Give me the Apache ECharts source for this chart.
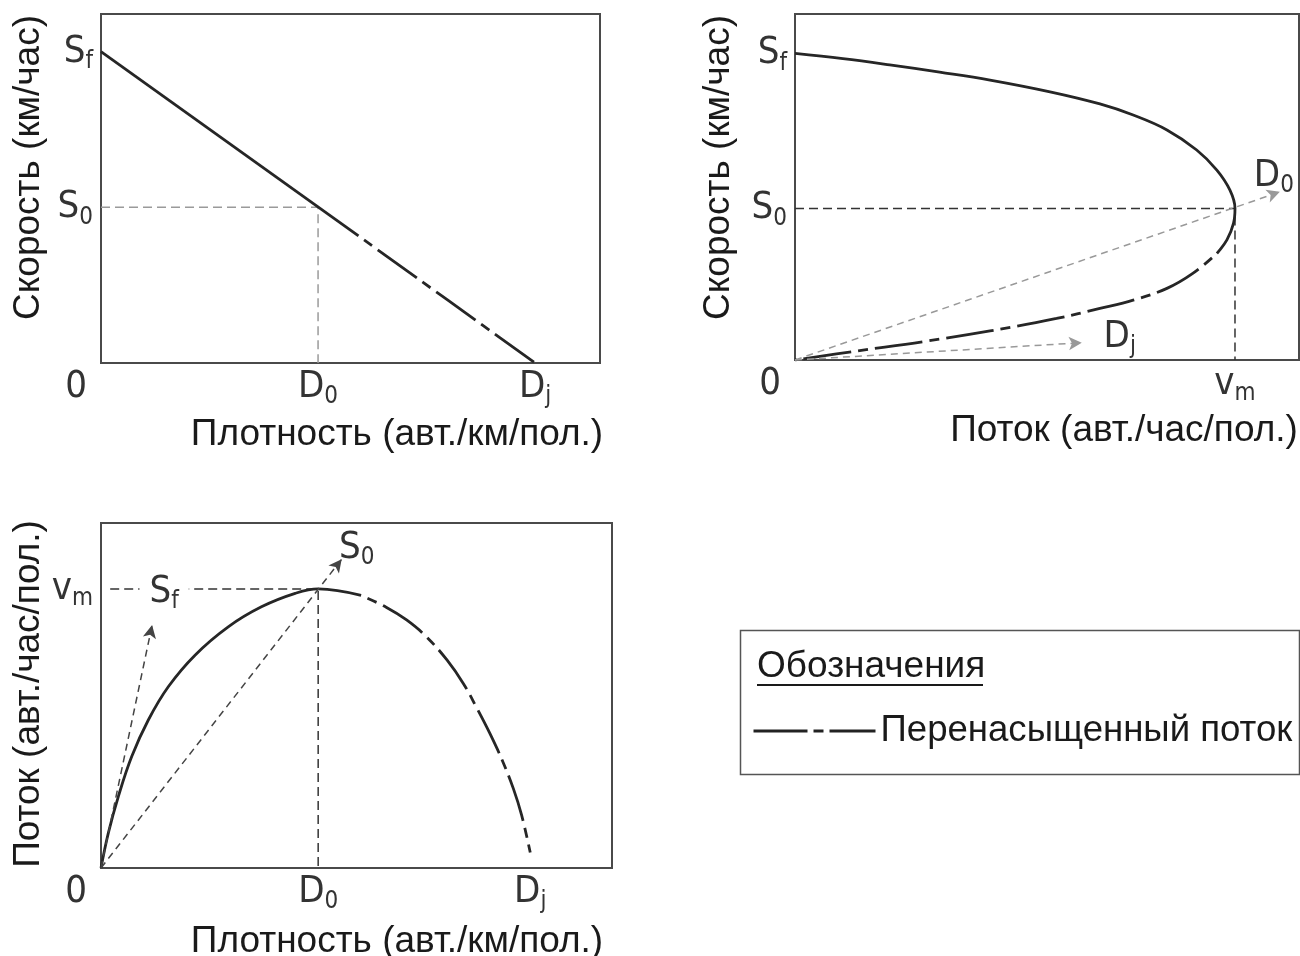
<!DOCTYPE html>
<html>
<head>
<meta charset="utf-8">
<script src="https://cdn.jsdelivr.net/npm/echarts@6/dist/echarts.min.js"></script>
<style>html,body{margin:0;padding:0;background:#fff}#c{width:1300px;height:956px}</style>
</head>
<body>
<div id="c"></div>
<script>
// ---------- Plot 1: speed vs density ----------
const kdFreeDensity = [0, 51.6];
const kdFreeSpeed   = [89.2, 36.4];
const kdCongDensity = [51.6, 87.0];
const kdCongSpeed   = [36.4, 0];
const kdRefDensity  = [0, 43.5, 43.5];
const kdRefSpeed    = [44.6, 44.6, 0];
const kdXTicks  = [0, 43.5, 87.0];
const kdXLabels = [['0', ''], ['D', '0'], ['D', 'j']];
const kdYTicks  = [89.2, 44.6];
const kdYLabels = [['S', 'f'], ['S', '0']];

// ---------- Plot 2: speed vs flow ----------
const sqFreeFlow  = [0, 9.5, 18.8, 28.7, 38.7, 50.6, 60.5, 67.1, 73.8, 79.7, 83.7, 86.3, 87.3, 87.0, 85.7, 83.7];
const sqFreeSpeed = [88.6, 87.1, 85.3, 83.2, 80.9, 77.5, 74.0, 70.8, 66.5, 60.7, 54.9, 49.1, 43.8, 39.5, 34.7, 30.8];
const sqCongFlow  = [83.7, 79.0, 73.8, 67.1, 60.5, 51.9, 38.7, 25.4, 12.2, 0];
const sqCongSpeed = [30.8, 25.1, 20.7, 17.3, 14.9, 12.0, 8.4, 5.3, 2.6, 0];
const sqRefFlow   = [0, 87.3, 87.3];
const sqRefSpeed  = [43.8, 43.8, 0];
const sqArrowEnds = [[96.2, 48.6], [56.9, 5.0]];
const sqArrowLabels = [['D', '0'], ['D', 'j']];
const sqXTicks  = [0, 87.3];
const sqXLabels = [['0', ''], ['v', 'm']];
const sqYTicks  = [88.6, 43.8];
const sqYLabels = [['S', 'f'], ['S', '0']];

// ---------- Plot 3: flow vs density ----------
const qkFreeDensity = [0, 1.43, 3.39, 6.01, 9.26, 13.2, 18.4, 24.9, 31.4, 38.0, 42.5, 50.9];
const qkFreeFlow    = [0, 10.1, 20.7, 32.3, 42.9, 52.6, 61.7, 69.9, 75.7, 79.6, 80.9, 79.0];
const qkCongDensity = [50.9, 55.8, 59.8, 63.7, 67.7, 70.9, 73.5, 76.1, 78.7, 80.7, 82.3, 84.0];
const qkCongFlow    = [79.0, 75.6, 71.9, 67.0, 60.3, 53.5, 46.5, 39.0, 30.6, 23.0, 15.4, 4.5];
const qkRefDensity  = [1.8, 42.5, 42.5];
const qkRefFlow     = [80.9, 80.9, 0];
const qkArrowEnds   = [[10.0, 70.4], [47.1, 89.5]];
const qkArrowLabels = [['S', 'f'], ['S', '0']];
const qkXTicks  = [0, 42.5, 84.0];
const qkXLabels = [['0', ''], ['D', '0'], ['D', 'j']];
const qkYTicks  = [80.9];
const qkYLabels = [['v', 'm']];

const congName = 'Перенасыщенный поток';
const legendTitle = 'Обозначения';

// ---------- styling ----------
const FT = "'Liberation Sans', Arial, sans-serif";
const FL = "'Liberation Sans Narrow', 'DejaVu Sans Condensed', 'Liberation Sans', sans-serif";
const INK = '#262626';
const LBL = '#333';
const rich = {
  m: {fontFamily: FL, fontSize: 38, color: LBL, lineHeight: 44},
  s: {fontFamily: FL, fontSize: 24, color: LBL, lineHeight: 24, verticalAlign: 'bottom'},
  z: {fontFamily: FL, fontSize: 38, color: LBL, lineHeight: 44, padding: [0, 50, 0, 0]}
};
function sym(p) {
  if (p[0] === '0') return '{z|0}';
  return '{m|' + p[0] + '}' + (p[1] ? '{s|' + p[1] + '}' : '');
}
const zip = (a, b) => a.map((v, i) => [v, b[i]]);
const DASHDOT = [48, 7, 10, 7];

function xAxis(gi, ticks, labels, name, pad, gap) {
  return {
    type: 'value', gridIndex: gi, min: 0, max: 100,
    axisLine: {show: false}, axisTick: {show: false}, splitLine: {show: false},
    axisLabel: {show: true, customValues: ticks, margin: 2, rich: rich,
      formatter: (v, i) => sym(labels[ticks.indexOf(v)] || labels[i])},
    name: name, nameLocation: 'middle', nameGap: gap, nameMoveOverlap: false,
    nameTextStyle: {fontFamily: FT, fontSize: 37, color: '#1a1a1a', padding: [0, 0, 0, pad]}
  };
}
function yAxis(gi, ticks, labels, name, pad, gap) {
  return {
    type: 'value', gridIndex: gi, min: 0, max: 100,
    axisLine: {show: false}, axisTick: {show: false}, splitLine: {show: false},
    axisLabel: {show: true, customValues: ticks, margin: 8, rich: rich,
      formatter: (v, i) => sym(labels[ticks.indexOf(v)] || labels[i])},
    name: name, nameLocation: 'middle', nameRotate: 90, nameGap: gap, nameMoveOverlap: false,
    nameTextStyle: {fontFamily: FT, fontSize: 37, color: '#1a1a1a', padding: [0, 0, 0, pad]}
  };
}
function solid(xi, data, name) {
  return {type: 'line', name: name, xAxisIndex: xi, yAxisIndex: xi, data: data,
    smooth: 0.4, symbol: 'none', silent: true, z: 3,
    lineStyle: {color: INK, width: 2.8}};
}
function cong(xi, data) {
  return {type: 'line', name: congName, xAxisIndex: xi, yAxisIndex: xi, data: data,
    smooth: 0.4, symbol: 'none', silent: true, z: 3,
    lineStyle: {color: INK, width: 2.8, type: DASHDOT, dashOffset: 48}};
}
function arrows(ends, color) {
  return {
    markLine: {silent: true, animation: false, symbol: ['none', 'arrow'], symbolSize: [10, 13],
      label: {show: false}, emphasis: {disabled: true},
      lineStyle: {color: color, type: [7, 5], width: 1.5},
      data: ends.map(e => [{coord: [0, 0]}, {coord: e}])}
  };
}

const option = {
  animation: false,
  backgroundColor: '#fff',
  grid: [
    {left: 101, top: 14, width: 499, height: 349, show: true, borderColor: '#4a4a4a', borderWidth: 2, outerBoundsMode: 'none'},
    {left: 795, top: 14, width: 504, height: 346, show: true, borderColor: '#4a4a4a', borderWidth: 2, outerBoundsMode: 'none'},
    {left: 101, top: 523, width: 511, height: 345, show: true, borderColor: '#4a4a4a', borderWidth: 2, outerBoundsMode: 'none'}
  ],
  xAxis: [
    xAxis(0, kdXTicks, kdXLabels, 'Плотность (авт./км/пол.)', 93, 53),
    xAxis(1, sqXTicks, sqXLabels, 'Поток (авт./час/пол.)', 154, 52),
    xAxis(2, qkXTicks, qkXLabels, 'Плотность (авт./км/пол.)', 81, 55)
  ],
  yAxis: [
    yAxis(0, kdYTicks, kdYLabels, 'Скорость (км/час)', 42, 54),
    yAxis(1, sqYTicks, sqYLabels, 'Скорость (км/час)', 39, 58),
    yAxis(2, qkYTicks, qkYLabels, 'Поток (авт./час/пол.)', 3, 54)
  ],
  legend: {
    data: [congName], left: 752, top: 710, selectedMode: false,
    itemWidth: 122, itemHeight: 14, padding: 0,
    lineStyle: {color: '#222', width: 3, type: [54, 6, 10, 6, 60], dashOffset: 0},
    itemStyle: {opacity: 0, color: 'rgba(0,0,0,0)', borderColor: 'rgba(0,0,0,0)'},
    textStyle: {fontFamily: FT, fontSize: 36.6, color: '#1a1a1a', lineHeight: 42}
  },
  graphic: [
    {type: 'rect', left: 738, top: 628, shape: {width: 559, height: 144},
      style: {fill: 'none', stroke: '#555', lineWidth: 1.5}, silent: true},
    {type: 'text', left: 757, top: 648, style: {text: legendTitle, font: '37px ' + FT, fill: '#1a1a1a'}, silent: true},
    {type: 'line', shape: {x1: 757, y1: 685, x2: 983, y2: 685}, style: {stroke: '#1a1a1a', lineWidth: 2}, silent: true}
  ],
  series: [
    // plot 1
    solid(0, zip(kdFreeDensity, kdFreeSpeed), 'free1'),
    cong(0, zip(kdCongDensity, kdCongSpeed)),
    {type: 'line', xAxisIndex: 0, yAxisIndex: 0, data: zip(kdRefDensity, kdRefSpeed), symbol: 'none', silent: true, z: 2,
      lineStyle: {color: '#9a9a9a', width: 1.5, type: [9, 5]}},
    // plot 2
    solid(1, zip(sqFreeFlow, sqFreeSpeed), 'free2'),
    cong(1, zip(sqCongFlow, sqCongSpeed)),
    Object.assign({type: 'line', xAxisIndex: 1, yAxisIndex: 1, data: zip(sqRefFlow, sqRefSpeed), symbol: 'none', silent: true, z: 2,
      lineStyle: {color: '#333', width: 1.5, type: [9, 5]},
      markPoint: {silent: true, animation: false, symbol: 'circle', symbolSize: 0, z: 10,
        data: sqArrowEnds.map((e, i) => ({coord: e, label: {show: true, position: 'inside', rich: rich,
          formatter: sym(sqArrowLabels[i]), offset: i === 0 ? [-6, -16] : [38, -6]}}))}
    }, arrows(sqArrowEnds, '#999')),
    // plot 3
    solid(2, zip(qkFreeDensity, qkFreeFlow), 'free3'),
    cong(2, zip(qkCongDensity, qkCongFlow)),
    Object.assign({type: 'line', xAxisIndex: 2, yAxisIndex: 2, data: zip(qkRefDensity, qkRefFlow), symbol: 'none', silent: true, z: 2,
      lineStyle: {color: '#333', width: 1.5, type: [9, 5]},
      markPoint: {silent: true, animation: false, symbol: 'circle', symbolSize: 0, z: 10,
        data: qkArrowEnds.map((e, i) => ({coord: e, label: {show: true, position: 'inside', rich: rich,
          backgroundColor: i === 0 ? '#fff' : 'transparent', padding: i === 0 ? [0, 10, 0, 10] : 0,
          formatter: sym(qkArrowLabels[i]), offset: i === 0 ? [12, -33] : [15, -11]}}))}
    }, arrows(qkArrowEnds, '#444'))
  ]
};
const chart = echarts.init(document.getElementById('c'), null, {renderer: 'canvas'});
chart.setOption(option);
</script>
</body>
</html>
